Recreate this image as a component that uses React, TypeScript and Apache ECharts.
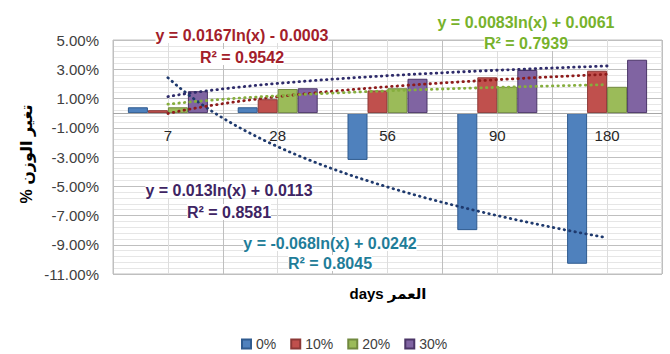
import React, { useEffect, useRef } from "react";
import * as echarts from "echarts";

const categories = ["7", "28", "56", "90", "180"];
const seriesNames = ["0%", "10%", "20%", "30%"];
const values0 = [0.4, 0.4, -3.2, -8.0, -10.3];
const values10 = [0.2, 0.95, 1.55, 2.45, 2.9];
const values20 = [0.4, 1.65, 1.7, 1.8, 1.8];
const values30 = [1.5, 1.7, 2.35, 2.95, 3.65];
// printed logarithmic trendlines: y = a*ln(x) + b (x = category index)
const trendA = [-0.068, 0.0167, 0.0083, 0.013];
const trendB = [0.0242, -0.0003, 0.0061, 0.0113];
const trendR2 = ["0.8045", "0.9542", "0.7939", "0.8581"];
const yMin = -11;
const yMax = 5;
const yStep = 2;
const xTitle = "days العمر";
const yTitle = "% تغير الوزن";

const FONT = "'Liberation Sans', 'DejaVu Sans', sans-serif";
const barFill = ["#4F81BD", "#C0504D", "#9BBB59", "#8064A2"];
const barBorder = ["#2F5B8F", "#8C3836", "#71893F", "#4B3567"];
const trendColor = ["#1F3A6E", "#8E1B1B", "#86AE3E", "#2E2B6A"];
const eqColor = ["#1F7D99", "#A3202A", "#77B22C", "#3E2463"];

export default function App() {
  const ref = useRef<HTMLDivElement>(null);
  useEffect(() => {
    document.body.style.margin = "0";
    const chart = echarts.init(ref.current!, null, { renderer: "svg" });
    const barData = [values0, values10, values20, values30];
    const bars: any[] = barData.map((d, i) => ({
      name: seriesNames[i],
      type: "bar",
      xAxisIndex: 0,
      yAxisIndex: 0,
      data: d,
      barWidth: 20,
      barGap: "0%",
      itemStyle: { color: barFill[i], borderColor: barBorder[i], borderWidth: 1 },
    }));
    bars[0].markLine = {
      silent: true,
      symbol: "none",
      label: { show: false },
      lineStyle: { color: "#A6A6A6", width: 1, type: "solid" },
      data: [{ yAxis: 0 }],
    };
    const trends = trendA.map((a, i) => {
      const pts: number[][] = [];
      for (let k = 0; k <= 40; k++) {
        const x = 1 + k * 0.1;
        pts.push([x, (a * Math.log(x) + trendB[i]) * 100]);
      }
      return {
        name: "trend" + i,
        type: "line",
        xAxisIndex: 1,
        yAxisIndex: 0,
        data: pts,
        showSymbol: false,
        symbol: "none",
        silent: true,
        z: 5,
        lineStyle: { color: trendColor[i], width: 2.8, type: [0.5, 5], cap: "round" },
      };
    });
    const eq = (i: number) =>
      `y = ${trendA[i]}ln(x) ${trendB[i] < 0 ? "-" : "+"} ${Math.abs(trendB[i])}`;
    const eqPos = [
      [330, 243, 263],
      [242, 35, 57],
      [526, 22, 43],
      [229, 190, 212],
    ];
    const graphics: any[] = [];
    eqPos.forEach((p, i) => {
      graphics.push({
        type: "text",
        x: p[0],
        y: p[1],
        z: 100,
        style: {
          text: eq(i),
          fill: eqColor[i],
          font: `bold 16px ${FONT}`,
          textAlign: "center",
          textVerticalAlign: "middle",
          backgroundColor: "#ffffff",
        },
      });
      graphics.push({
        type: "text",
        x: p[0],
        y: p[2],
        z: 100,
        style: {
          text: `R² = ${trendR2[i]}`,
          fill: eqColor[i],
          font: `bold 16px ${FONT}`,
          textAlign: "center",
          textVerticalAlign: "middle",
          backgroundColor: "#ffffff",
        },
      });
    });
    graphics.push({
      type: "text",
      x: 388,
      y: 293,
      style: {
        text: xTitle,
        fill: "#000",
        font: `bold 15px ${FONT}`,
        textAlign: "center",
        textVerticalAlign: "middle",
      },
    });
    graphics.push({
      type: "text",
      x: 26,
      y: 154,
      rotation: Math.PI / 2,
      style: {
        text: yTitle,
        fill: "#000",
        font: `bold 16px ${FONT}`,
        textAlign: "center",
        textVerticalAlign: "middle",
      },
    });

    chart.setOption({
      animation: false,
      backgroundColor: "#ffffff",
      textStyle: { fontFamily: FONT },
      grid: {
        left: 113,
        right: 8,
        top: 40,
        bottom: 80,
        show: true,
        borderColor: "#BFBFBF",
        borderWidth: 1,
        containLabel: false,
      },
      legend: {
        data: seriesNames,
        left: 236,
        bottom: -2,
        icon: "rect",
        itemWidth: 9,
        itemHeight: 9,
        itemGap: 14,
        textStyle: { fontSize: 14, color: "#404040", fontFamily: FONT },
      },
      xAxis: [
        {
          type: "category",
          data: categories,
          axisLine: { show: false, onZero: false },
          axisTick: { show: false },
          splitLine: { show: false },
          axisLabel: { color: "#262626", fontSize: 15, margin: -146, fontFamily: FONT },
        },
        {
          type: "value",
          min: 0.5,
          max: 5.5,
          interval: 1,
          position: "bottom",
          axisLine: { show: false, onZero: false },
          axisTick: { show: false },
          axisLabel: { show: false },
          splitLine: { show: true, lineStyle: { color: "#BFBFBF", width: 1 } },
          minorTick: { show: false, splitNumber: 2 },
          minorSplitLine: { show: true, lineStyle: { color: "#DDDDDD", width: 1 } },
        },
      ],
      yAxis: {
        type: "value",
        min: yMin,
        max: yMax,
        interval: yStep,
        axisLine: { show: false },
        axisTick: { show: false },
        axisLabel: {
          color: "#404040",
          fontSize: 15,
          margin: 14,
          fontFamily: FONT,
          formatter: (v: number) => v.toFixed(2) + "%",
        },
        splitLine: { show: true, lineStyle: { color: "#BFBFBF", width: 1 } },
        minorTick: { show: false, splitNumber: 5 },
        minorSplitLine: { show: true, lineStyle: { color: "#E6E6E6", width: 1 } },
      },
      series: [...bars, ...trends],
      graphic: graphics,
    });
    return () => chart.dispose();
  }, []);
  return <div ref={ref} style={{ width: 670, height: 354 }} />;
}
